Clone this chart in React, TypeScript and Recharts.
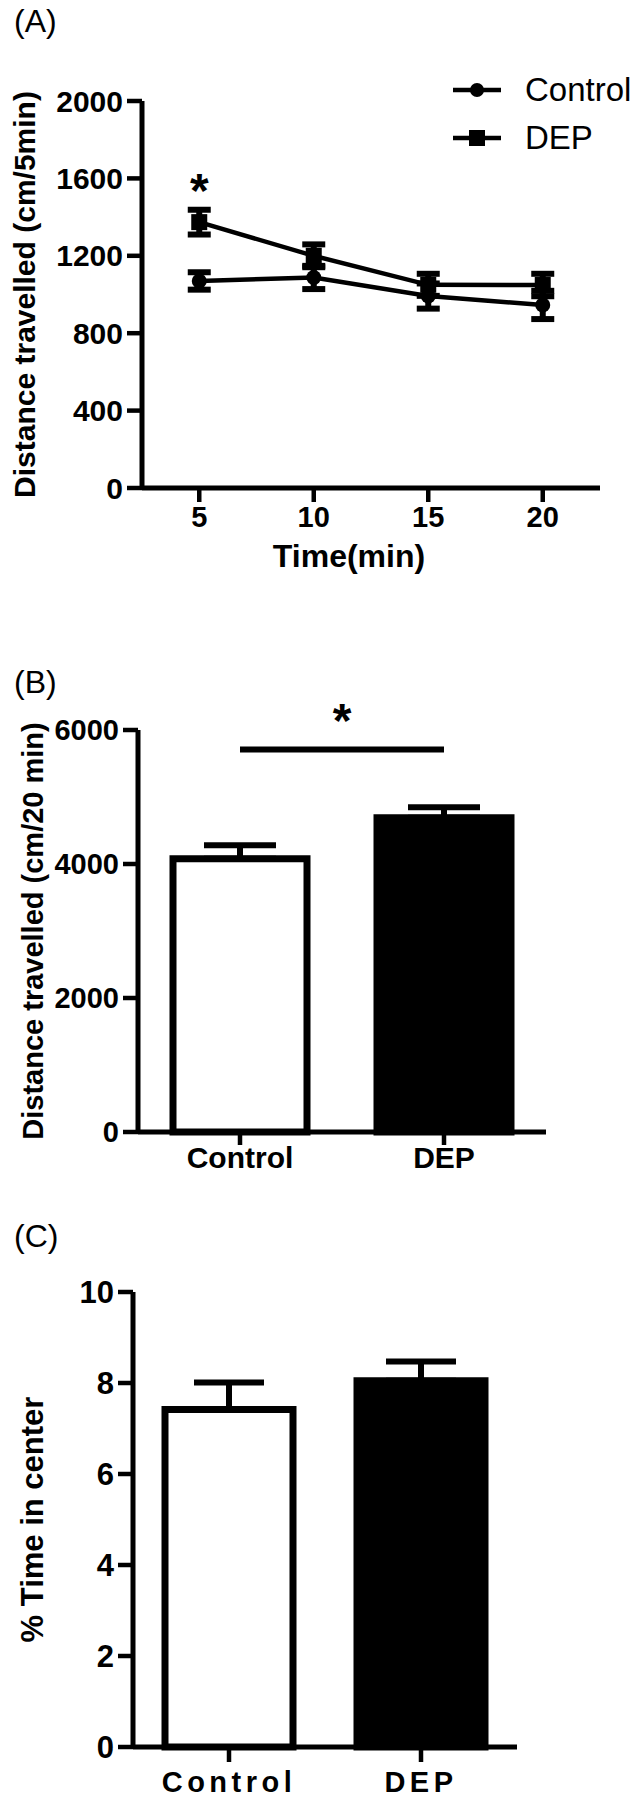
import React from 'react';
import {
  LineChart, Line, BarChart, Bar, XAxis, YAxis, ErrorBar, Legend, Label,
  ReferenceLine, ReferenceDot, Cell,
} from 'recharts';

// (A) distance per 5 min bin
const times = [5, 10, 15, 20];
const controlMean = [1070, 1088, 992, 946];
const controlSem = [45, 60, 65, 73];
const depMean = [1374, 1200, 1050, 1049];
const depSem = [64, 59, 57, 58];
const distTicks = [0, 400, 800, 1200, 1600, 2000];

// (B) total distance, (C) % time in centre
const groups = ['Control', 'DEP'];
const groupFill = ['#ffffff', '#000000'];
const totalMean = [4080, 4690];
const totalSem = [200, 156];
const totalTicks = [0, 2000, 4000, 6000];
const centerMean = [7.42, 8.05];
const centerSem = [0.59, 0.42];
const centerTicks = [0, 2, 4, 6, 8, 10];

const FONT = '"Liberation Sans", Arial, Helvetica, sans-serif';
const tickStyle = { fill: '#000', fontSize: 29, fontWeight: 'bold', fontFamily: FONT };
const axisStyle = { stroke: '#000', strokeWidth: 5 };
const tickLineStyle = { stroke: '#000', strokeWidth: 4.5 };

const lineData = times.map((t, i) => ({
  time: t,
  control: controlMean[i], controlErr: controlSem[i],
  dep: depMean[i], depErr: depSem[i],
}));
const totalData = groups.map((g, i) => ({ group: g, mean: totalMean[i], err: [0, totalSem[i]] }));
const centerData = groups.map((g, i) => ({ group: g, mean: centerMean[i], err: [0, centerSem[i]] }));

const yLabel = (text: string, cx: number, size: number) => (props: any) => {
  const vb = props.viewBox;
  const cy = vb.y + vb.height / 2;
  return (
    <text x={cx} y={cy} transform={`rotate(-90 ${cx} ${cy})`} textAnchor="middle"
      dominantBaseline="central" fontSize={size} fontWeight="bold" fontFamily={FONT} fill="#000">
      {text}
    </text>
  );
};

const squareDot = (p: any) => (
  <rect key={`sq-${p.index}`} x={p.cx - 8} y={p.cy - 8} width={16} height={16} fill="#000" />
);

const renderLegend = () => (
  <div style={{ fontFamily: FONT, fontSize: 33, color: '#000' }}>
    {groups.map((g, i) => (
      <div key={g} style={{ display: 'flex', alignItems: 'center', height: 48 }}>
        <svg width={48} height={20} style={{ marginRight: 24 }}>
          <line x1={0} y1={10} x2={48} y2={10} stroke="#000" strokeWidth={4.5} />
          {i === 0
            ? <circle cx={24} cy={10} r={7} fill="#000" />
            : <rect x={16} y={2} width={16} height={16} fill="#000" />}
        </svg>
        <span>{g}</span>
      </div>
    ))}
  </div>
);

const panelTag = (text: string, top: number) => (
  <div style={{ position: 'absolute', left: 14, top, fontFamily: FONT, fontSize: 32, lineHeight: '36px' }}>
    {text}
  </div>
);

export default function App() {
  return (
    <div style={{ position: 'absolute', left: 0, top: 0, width: 635, height: 1800, background: '#fff' }}>
      {panelTag('(A)', 3)}
      {panelTag('(B)', 664)}
      {panelTag('(C)', 1218)}

      <div style={{ position: 'absolute', left: 0, top: 0 }}>
        <LineChart width={635} height={580} data={lineData} margin={{ top: 101, right: 35, bottom: 0, left: 0 }}>
          <XAxis dataKey="time" type="number" domain={[2.5, 22.5]} ticks={times} interval={0}
            height={92} tick={tickStyle} tickSize={14} tickMargin={4}
            axisLine={axisStyle} tickLine={tickLineStyle}>
            <Label content={() => (
              <text x={349} y={556} textAnchor="middle" dominantBaseline="central"
                fontSize={32} fontWeight="bold" fontFamily={FONT} fill="#000">Time(min)</text>
            )} />
          </XAxis>
          <YAxis type="number" domain={[0, 2000]} ticks={distTicks} interval={0} width={142}
            tick={{ ...tickStyle, fontSize: 30 }} tickSize={15} tickMargin={4} axisLine={axisStyle} tickLine={tickLineStyle}>
            <Label content={yLabel('Distance travelled (cm/5min)', 24, 30)} />
          </YAxis>
          <Legend layout="vertical" align="center" verticalAlign="middle" content={renderLegend}
            wrapperStyle={{ top: 66, left: 453, width: 182 }} />
          <Line dataKey="control" name="Control" stroke="#000" strokeWidth={4.5}
            dot={{ r: 7.5, fill: '#000', stroke: '#000', strokeWidth: 0 }} isAnimationActive={false}>
            <ErrorBar dataKey="controlErr" direction="y" width={11.5} stroke="#000" strokeWidth={6} />
          </Line>
          <Line dataKey="dep" name="DEP" stroke="#000" strokeWidth={4.5}
            dot={squareDot} isAnimationActive={false}>
            <ErrorBar dataKey="depErr" direction="y" width={11.5} stroke="#000" strokeWidth={6} />
          </Line>
          <ReferenceDot x={times[0]} y={depMean[0] + depSem[0]} r={0} fill="none" stroke="none"
            label={{ value: '*', position: 'top', offset: 3, fontSize: 48, fontWeight: 'bold', fontFamily: FONT, fill: '#000' }} />
        </LineChart>
      </div>

      <div style={{ position: 'absolute', left: 0, top: 600 }}>
        <BarChart width={635} height={580} data={totalData} barSize={134}
          margin={{ top: 130, right: 89, bottom: 0, left: 0 }}>
          <XAxis dataKey="group" height={48} tick={{ ...tickStyle, fontSize: 30 }} tickSize={13} tickMargin={2}
            axisLine={axisStyle} tickLine={tickLineStyle} interval={0} />
          <YAxis type="number" domain={[0, 6000]} ticks={totalTicks} interval={0} width={138}
            tick={tickStyle} tickSize={15} tickMargin={4} axisLine={axisStyle} tickLine={tickLineStyle}>
            <Label content={yLabel('Distance travelled (cm/20 min)', 33, 29)} />
          </YAxis>
          <Bar dataKey="mean" stroke="#000" strokeWidth={7} isAnimationActive={false}>
            {totalData.map((d, i) => <Cell key={d.group} fill={groupFill[i]} />)}
            <ErrorBar dataKey="err" direction="y" width={36} stroke="#000" strokeWidth={6} />
          </Bar>
          <ReferenceLine segment={[{ x: groups[0], y: 5710 }, { x: groups[1], y: 5710 }]}
            stroke="#000" strokeWidth={6}
            label={{ value: '*', position: 'top', offset: 12, fontSize: 48, fontWeight: 'bold', fontFamily: FONT, fill: '#000' }} />
        </BarChart>
      </div>

      <div style={{ position: 'absolute', left: 0, top: 1200 }}>
        <BarChart width={635} height={600} data={centerData} barSize={128}
          margin={{ top: 92, right: 118, bottom: 0, left: 0 }}>
          <XAxis dataKey="group" height={53} tick={{ ...tickStyle, letterSpacing: 4.5 }} tickSize={15} tickMargin={9}
            axisLine={axisStyle} tickLine={tickLineStyle} interval={0} />
          <YAxis type="number" domain={[0, 10]} ticks={centerTicks} interval={0} width={133}
            tick={{ ...tickStyle, fontSize: 31 }} tickSize={15} tickMargin={4} axisLine={axisStyle} tickLine={tickLineStyle}>
            <Label content={yLabel('% Time in center', 32, 31)} />
          </YAxis>
          <Bar dataKey="mean" stroke="#000" strokeWidth={7} isAnimationActive={false}>
            {centerData.map((d, i) => <Cell key={d.group} fill={groupFill[i]} />)}
            <ErrorBar dataKey="err" direction="y" width={35} stroke="#000" strokeWidth={6} />
          </Bar>
        </BarChart>
      </div>
    </div>
  );
}
